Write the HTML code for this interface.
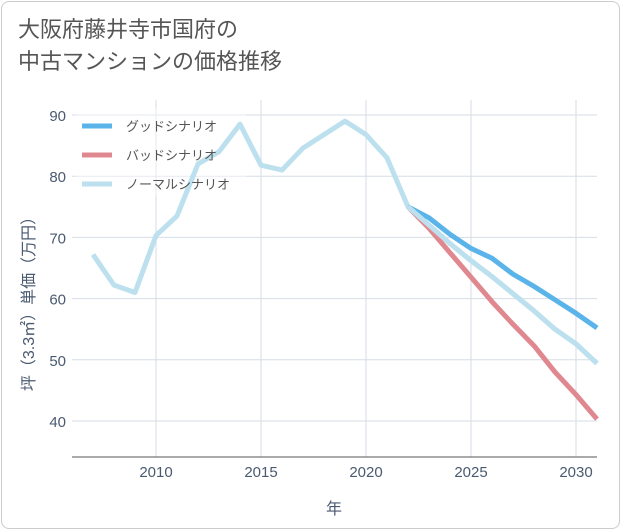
<!DOCTYPE html>
<html><head><meta charset="utf-8"><style>
body{margin:0;background:#fff;font-family:"Liberation Sans","Noto Sans CJK JP",sans-serif;}
#wrap{position:relative;width:621px;height:530px;}
#frame{position:absolute;left:1px;top:1px;width:617px;height:526px;border:1px solid #ccc;border-radius:8px;}
#title{position:absolute;left:18px;top:14px;font-size:22px;line-height:32px;color:#555;}
</style></head><body>
<div id="wrap">
<div id="frame"></div>
<div id="title">大阪府藤井寺市国府の<br>中古マンションの価格推移</div>
<svg id="chart" width="621" height="530" style="position:absolute;left:0;top:0"></svg>
</div>
<script>
const years=[2007,2008,2009,2010,2011,2012,2013,2014,2015,2016,2017,2018,2019,2020,2021,2022,2023,2024,2025,2026,2027,2028,2029,2030,2031];
const normalVals=[67.2,62.2,61,70.3,73.5,82,84,88.5,81.8,81,84.6,86.8,89,86.8,83,75,72,69,66.2,63.6,60.8,58,55,52.6,49.4];
const goodYears=[2022,2023,2024,2025,2026,2027,2028,2029,2030,2031];
const goodVals=[75,73.2,70.5,68.2,66.6,64,62,59.8,57.6,55.2];
const badVals=[75,71.5,67.5,63.5,59.5,55.8,52.3,48,44.3,40.3];
const xTicks=[2010,2015,2020,2025,2030];
const yTicks=[40,50,60,70,80,90];
const L=72,R=597,T=100,B=457;
const x=v=>156+(v-2010)*21;
const y=v=>115+(90-v)*6.12;
const svg=document.getElementById('chart');
const NS='http://www.w3.org/2000/svg';
function mk(t,a){const e=document.createElementNS(NS,t);for(const k in a)e.setAttribute(k,a[k]);svg.appendChild(e);return e;}
xTicks.forEach(t=>{
const g=mk('line',{x1:x(t),x2:x(t),y1:T,y2:B,stroke:'#d6dde6','stroke-width':1});


const l=mk('text',{x:x(t),y:477,'text-anchor':'middle','font-size':15,fill:'#4a5a70'});l.textContent=t;


});
yTicks.forEach(t=>{
const g=mk('line',{x1:L,x2:R,y1:y(t),y2:y(t),stroke:'#d6dde6','stroke-width':1});


const l=mk('text',{x:66,y:y(t)+6,'text-anchor':'end','font-size':15,fill:'#4a5a70'});l.textContent=t;


});
const ax=mk('line',{x1:L,x2:R,y1:B,y2:B,stroke:'#555','stroke-width':1});


const lb=mk('rect',{x:76,y:108,width:170,height:88,fill:'#fff','fill-opacity':0.4});


function series(xs,vs,col,name){
const p=mk('polyline',{points:xs.map((v,i)=>x(v)+','+y(vs[i])).join(' '),fill:'none',stroke:col,'stroke-width':5,'stroke-linejoin':'round'});


}
series(years,normalVals,'#bde0ef','normal-scenario-line');
series(goodYears,badVals,'#e08890','bad-scenario-line');
series(goodYears,goodVals,'#5ab4ea','good-scenario-line');
series(years.slice(15),normalVals.slice(15),'#bde0ef','normal-scenario-line-forecast');
[['グッドシナリオ','#5ab4ea',126],['バッドシナリオ','#e08890',155],['ノーマルシナリオ','#bde0ef',184]].forEach(([n,c,yy])=>{
const s=mk('line',{x1:82,x2:112,y1:yy,y2:yy,stroke:c,'stroke-width':5});


const t=mk('text',{x:126,y:yy+5,'font-size':13,fill:'#555'});t.textContent=n;


});
const xt=mk('text',{x:334,y:514,'text-anchor':'middle','font-size':16,fill:'#4a5a70'});xt.textContent='年';


const yt=mk('text',{x:0,y:0,'text-anchor':'middle','font-size':16,fill:'#4a5a70',transform:'translate(34,300) rotate(-90)'});yt.textContent='坪（3.3㎡）単価（万円）';


</script>
</body></html>
